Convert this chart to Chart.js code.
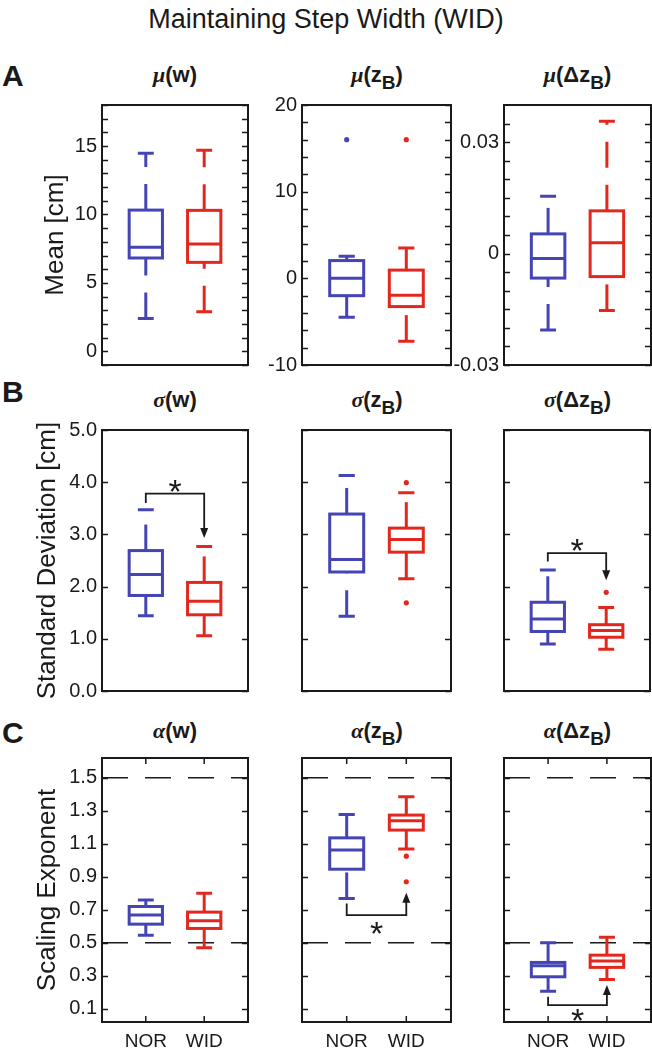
<!DOCTYPE html>
<html>
<head>
<meta charset="utf-8">
<script src="https://cdn.jsdelivr.net/npm/chart.js@4.4.0/dist/chart.umd.min.js"></script>
<style>
  body { margin: 0; background: #fff; width: 652px; height: 1050px; position: relative; overflow: hidden;
         font-family: "Liberation Sans", Arial, sans-serif; color: #1a1a1a; }
  canvas { position: absolute; }
  .main { position: absolute; left: 0; top: 4px; width: 652px; text-align: center; font-size: 27px; line-height: 30px; }
  .letter { position: absolute; left: 2px; font-weight: bold; font-size: 30px; line-height: 30px; }
  .ptitle { position: absolute; text-align: center; font-weight: bold; font-size: 22px; line-height: 24px; white-space: nowrap; }
  .ptitle .g { font-family: "Liberation Serif", serif; font-style: italic; }
  .ptitle sub { font-size: 19px; vertical-align: -7px; line-height: 0; }
</style>
</head>
<body>
<div class="main">Maintaining Step Width (WID)</div>
<div class="letter" style="top:61px">A</div>
<div class="letter" style="top:377px">B</div>
<div class="letter" style="top:718px">C</div>

<div class="ptitle" style="left:102px;width:146px;top:63px"><span class="g">μ</span>(w)</div>
<div class="ptitle" style="left:302px;width:150px;top:63px"><span class="g">μ</span>(z<sub>B</sub>)</div>
<div class="ptitle" style="left:504px;width:147px;top:63px"><span class="g">μ</span>(Δz<sub>B</sub>)</div>
<div class="ptitle" style="left:102px;width:146px;top:388px"><span class="g">σ</span>(w)</div>
<div class="ptitle" style="left:302px;width:150px;top:388px"><span class="g">σ</span>(z<sub>B</sub>)</div>
<div class="ptitle" style="left:504px;width:147px;top:388px"><span class="g">σ</span>(Δz<sub>B</sub>)</div>
<div class="ptitle" style="left:102px;width:146px;top:719px"><span class="g">α</span>(w)</div>
<div class="ptitle" style="left:302px;width:150px;top:719px"><span class="g">α</span>(z<sub>B</sub>)</div>
<div class="ptitle" style="left:504px;width:147px;top:719px"><span class="g">α</span>(Δz<sub>B</sub>)</div>

<script>
// groups on the x axis
const groups = ['NOR', 'WID'];

// box stats: [lower whisker, q1, median, q3, upper whisker]
const muW_NOR = [2.4, 6.82, 7.6, 10.32, 14.47];
const muW_WID = [2.9, 6.5, 7.84, 10.3, 14.7];
const muZB_NOR = [-4.48, -2.0, 0.0, 2.05, 2.54];
const muZB_WID = [-7.25, -3.26, -1.94, 0.95, 3.5];
const muDZB_NOR = [-0.0206, -0.0066, -0.0013, 0.0053, 0.0154];
const muDZB_WID = [-0.0153, -0.0062, 0.0029, 0.0115, 0.0356];
const sdW_NOR = [1.44, 1.83, 2.23, 2.69, 3.47];
const sdW_WID = [1.06, 1.46, 1.72, 2.08, 2.77];
const sdZB_NOR = [1.43, 2.28, 2.52, 3.39, 4.13];
const sdZB_WID = [2.15, 2.66, 2.90, 3.12, 3.80];
const sdDZB_NOR = [0.90, 1.14, 1.38, 1.70, 2.32];
const sdDZB_WID = [0.80, 1.03, 1.16, 1.27, 1.60];
const alW_NOR = [0.546, 0.613, 0.668, 0.72, 0.76];
const alW_WID = [0.47, 0.587, 0.633, 0.686, 0.80];
const alZB_NOR = [0.769, 0.946, 1.062, 1.136, 1.278];
const alZB_WID = [1.068, 1.183, 1.239, 1.274, 1.385];
const alDZB_NOR = [0.207, 0.294, 0.361, 0.381, 0.5];
const alDZB_WID = [0.278, 0.351, 0.389, 0.425, 0.533];

// outliers
const muZB_outNOR = [16.0];
const muZB_outWID = [16.0];
const sdZB_outWID = [1.69, 3.99];
const sdDZB_outWID = [1.89];
const alZB_outWID = [0.87, 1.025];

// significance brackets: [start at NOR, bar level, arrow tip at WID, star]
const sdW_sig = [3.6, 3.78, 2.93, 3.92];
const sdDZB_sig = [2.48, 2.64, 2.12, 2.8];
const alZB_sig = [0.738, 0.668, 0.803, 0.587];
const alDZB_sig = [0.173, 0.122, 0.244, 0.06];

// dashed reference lines for the scaling exponent
const alRefLines = [0.5, 1.5];

// tick marks and labelled ticks
const muW_ticks = [-1, 0, 1, 2, 3, 4, 5, 6, 7, 8, 9, 10, 11, 12, 13, 14, 15, 16, 17, 18];
const muW_labels = [0, 5, 10, 15];
const muZB_ticks = [-10, -8, -6, -4, -2, 0, 2, 4, 6, 8, 10, 12, 14, 16, 18, 20];
const muZB_labels = [-10, 0, 10, 20];
const muDZB_ticks = [-0.03, -0.025, -0.02, -0.015, -0.01, -0.005, 0, 0.005, 0.01, 0.015, 0.02, 0.025, 0.03, 0.035];
const muDZB_labels = [-0.03, 0, 0.03];
const sd_ticks = [0, 1, 2, 3, 4, 5];
const al_ticks = [0.1, 0.3, 0.5, 0.7, 0.9, 1.1, 1.3, 1.5];

const BLUE = '#4444b4';
const RED = '#e2281e';
const INK = '#1a1a1a';

const cols = [{ left: 102, width: 146 }, { left: 302, width: 150 }, { left: 504, width: 147 }];
const rows = [{ top: 105, height: 263 }, { top: 430, height: 264 }, { top: 758, height: 264 }];
const PAD_TOP = 40;

const panels = [
  { r: 0, c: 0, min: -1, max: 18, ticks: muW_ticks, labels: muW_labels, fmt: v => String(v), nor: muW_NOR, wid: muW_WID, yTitle: 'Mean [cm]', titlePad: 8 },
  { r: 0, c: 1, min: -10, max: 20, ticks: muZB_ticks, labels: muZB_labels, fmt: v => String(v), nor: muZB_NOR, wid: muZB_WID, outNor: muZB_outNOR, outWid: muZB_outWID },
  { r: 0, c: 2, min: -0.03, max: 0.04, ticks: muDZB_ticks, labels: muDZB_labels, fmt: v => String(v), nor: muDZB_NOR, wid: muDZB_WID },
  { r: 1, c: 0, min: 0, max: 5, ticks: sd_ticks, labels: sd_ticks, fmt: v => v.toFixed(1), nor: sdW_NOR, wid: sdW_WID, sig: sdW_sig, yTitle: 'Standard Deviation [cm]', titlePad: 0 },
  { r: 1, c: 1, min: 0, max: 5, ticks: sd_ticks, labels: [], nor: sdZB_NOR, wid: sdZB_WID, outWid: sdZB_outWID },
  { r: 1, c: 2, min: 0, max: 5, ticks: sd_ticks, labels: [], nor: sdDZB_NOR, wid: sdDZB_WID, outWid: sdDZB_outWID, sig: sdDZB_sig },
  { r: 2, c: 0, min: 0.02, max: 1.62, ticks: al_ticks, labels: al_ticks, fmt: v => v.toFixed(1), nor: alW_NOR, wid: alW_WID, refs: alRefLines, yTitle: 'Scaling Exponent', titlePad: 0 },
  { r: 2, c: 1, min: 0.02, max: 1.62, ticks: al_ticks, labels: [], nor: alZB_NOR, wid: alZB_WID, outWid: alZB_outWID, refs: alRefLines, sig: alZB_sig },
  { r: 2, c: 2, min: 0.02, max: 1.62, ticks: al_ticks, labels: [], nor: alDZB_NOR, wid: alDZB_WID, refs: alRefLines, sig: alDZB_sig },
];

// box with dashed whiskers, matlab style
function drawBox(ctx, xs, ys, xv, st, color) {
  const xc = xs.getPixelForValue(xv);
  const half = xs.getPixelForValue(xv + 0.285) - xc;
  const capHalf = half / 2.1;
  const [lo, q1, med, q3, hi] = st.map(v => ys.getPixelForValue(v));
  ctx.save();
  ctx.strokeStyle = color;
  ctx.lineWidth = 3;
  ctx.lineCap = 'butt';
  ctx.setLineDash([26, 17]);
  ctx.beginPath(); ctx.moveTo(xc, lo); ctx.lineTo(xc, q1); ctx.stroke();
  ctx.beginPath(); ctx.moveTo(xc, q3); ctx.lineTo(xc, hi); ctx.stroke();
  ctx.setLineDash([]);
  ctx.beginPath();
  ctx.moveTo(xc - capHalf, lo); ctx.lineTo(xc + capHalf, lo);
  ctx.moveTo(xc - capHalf, hi); ctx.lineTo(xc + capHalf, hi);
  ctx.moveTo(xc - half, med); ctx.lineTo(xc + half, med);
  ctx.stroke();
  ctx.strokeRect(xc - half, q3, 2 * half, q1 - q3);
  ctx.restore();
}

// bracket with arrow and star
function drawSig(ctx, xs, ys, s) {
  const x1 = xs.getPixelForValue(1), x2 = xs.getPixelForValue(2);
  const yS = ys.getPixelForValue(s[0]), yB = ys.getPixelForValue(s[1]), yT = ys.getPixelForValue(s[2]);
  const dir = Math.sign(yT - yB);
  ctx.save();
  ctx.strokeStyle = INK; ctx.fillStyle = INK; ctx.lineWidth = 1.8;
  ctx.beginPath();
  ctx.moveTo(x1, yS); ctx.lineTo(x1, yB); ctx.lineTo(x2, yB); ctx.lineTo(x2, yT - dir * 8);
  ctx.stroke();
  ctx.beginPath();
  ctx.moveTo(x2, yT); ctx.lineTo(x2 - 4, yT - dir * 10); ctx.lineTo(x2 + 4, yT - dir * 10); ctx.closePath();
  ctx.fill();
  ctx.font = '34px "Liberation Sans", Arial, sans-serif';
  ctx.textAlign = 'center';
  ctx.textBaseline = 'alphabetic';
  const m = ctx.measureText('*');
  const xs0 = xs.getPixelForValue(1.5), ys0 = ys.getPixelForValue(s[3]);
  ctx.fillText('*', xs0, ys0 + (m.actualBoundingBoxAscent - m.actualBoundingBoxDescent) / 2);
  ctx.restore();
}

function makePlugin(p) {
  return {
    id: 'boxes',
    beforeDatasetsDraw(chart) {
      const { ctx, chartArea: a, scales: { x, y } } = chart;
      ctx.save();
      ctx.strokeStyle = INK; ctx.lineWidth = 1.5; ctx.setLineDash([26, 17]);
      (p.refs || []).forEach(v => {
        const py = y.getPixelForValue(v);
        ctx.beginPath(); ctx.moveTo(a.left, py); ctx.lineTo(a.right, py); ctx.stroke();
      });
      ctx.restore();
      drawBox(ctx, x, y, 1, p.nor, BLUE);
      drawBox(ctx, x, y, 2, p.wid, RED);
      if (p.sig) drawSig(ctx, x, y, p.sig);
    },
    afterDraw(chart) {
      const { ctx, chartArea: a, scales: { x, y } } = chart;
      ctx.save();
      ctx.strokeStyle = INK;
      ctx.lineWidth = 1.5;
      ctx.beginPath();
      y.ticks.forEach(t => {
        const py = Math.round(y.getPixelForValue(t.value)) + 0.5;
        ctx.moveTo(a.left, py); ctx.lineTo(a.left + 6, py);
        ctx.moveTo(a.right, py); ctx.lineTo(a.right - 6, py);
      });
      if (p.r === 2) {
        [1, 2].forEach(v => {
          const px = x.getPixelForValue(v);
          ctx.moveTo(px, a.top); ctx.lineTo(px, a.top + 6);
          ctx.moveTo(px, a.bottom); ctx.lineTo(px, a.bottom - 6);
        });
      }
      ctx.stroke();
      ctx.lineWidth = 2;
      ctx.strokeRect(a.left, a.top, a.right - a.left, a.bottom - a.top);
      ctx.restore();
    }
  };
}

Chart.defaults.font.family = '"Liberation Sans", Arial, sans-serif';
Chart.defaults.color = INK;

panels.forEach(p => {
  const col = cols[p.c], row = rows[p.r];
  const bottomPad = p.r === 2 ? 36 : 14;
  const canvas = document.createElement('canvas');
  canvas.width = col.width + 73;
  canvas.height = row.height + PAD_TOP + bottomPad;
  canvas.style.left = (col.left - 70) + 'px';
  canvas.style.top = (row.top - PAD_TOP) + 'px';
  document.body.appendChild(canvas);

  const outliers = (vals, xv, color) => ({
    data: (vals || []).map(v => ({ x: xv, y: v })),
    pointRadius: 2.6,
    pointBorderWidth: 0,
    pointBackgroundColor: color,
    showLine: false,
  });

  new Chart(canvas, {
    type: 'scatter',
    data: { datasets: [outliers(p.outNor, 1, BLUE), outliers(p.outWid, 2, RED)] },
    plugins: [makePlugin(p)],
    options: {
      responsive: false,
      animation: false,
      devicePixelRatio: 1,
      layout: { padding: { top: PAD_TOP, left: 0, right: 3, bottom: p.r === 2 ? 0 : 14 } },
      plugins: { legend: { display: false }, tooltip: { enabled: false } },
      scales: {
        x: {
          type: 'linear',
          min: 0.25,
          max: 2.75,
          display: p.r === 2,
          grid: { display: false, drawTicks: false },
          border: { display: false },
          afterBuildTicks: s => { s.ticks = [1, 2].map(v => ({ value: v })); },
          afterFit: s => { s.height = p.r === 2 ? 36 : 0; },
          ticks: {
            autoSkip: false,
            maxRotation: 0,
            padding: 8,
            font: { size: 19 },
            callback: v => groups[v - 1] || '',
          },
        },
        y: {
          type: 'linear',
          min: p.min,
          max: p.max,
          grid: { display: false, drawTicks: false },
          border: { display: false },
          afterBuildTicks: s => { s.ticks = p.ticks.map(v => ({ value: v })); },
          afterFit: s => { s.width = 70; },
          ticks: {
            autoSkip: false,
            padding: 5,
            font: { size: 20 },
            callback: v => (p.labels.includes(v) ? p.fmt(v) : ''),
          },
          title: {
            display: !!p.yTitle,
            text: p.yTitle || '',
            font: { size: 26 },
            padding: { top: p.titlePad || 0, bottom: 0 },
          },
        },
      },
    },
  });
});
</script>
</body>
</html>
